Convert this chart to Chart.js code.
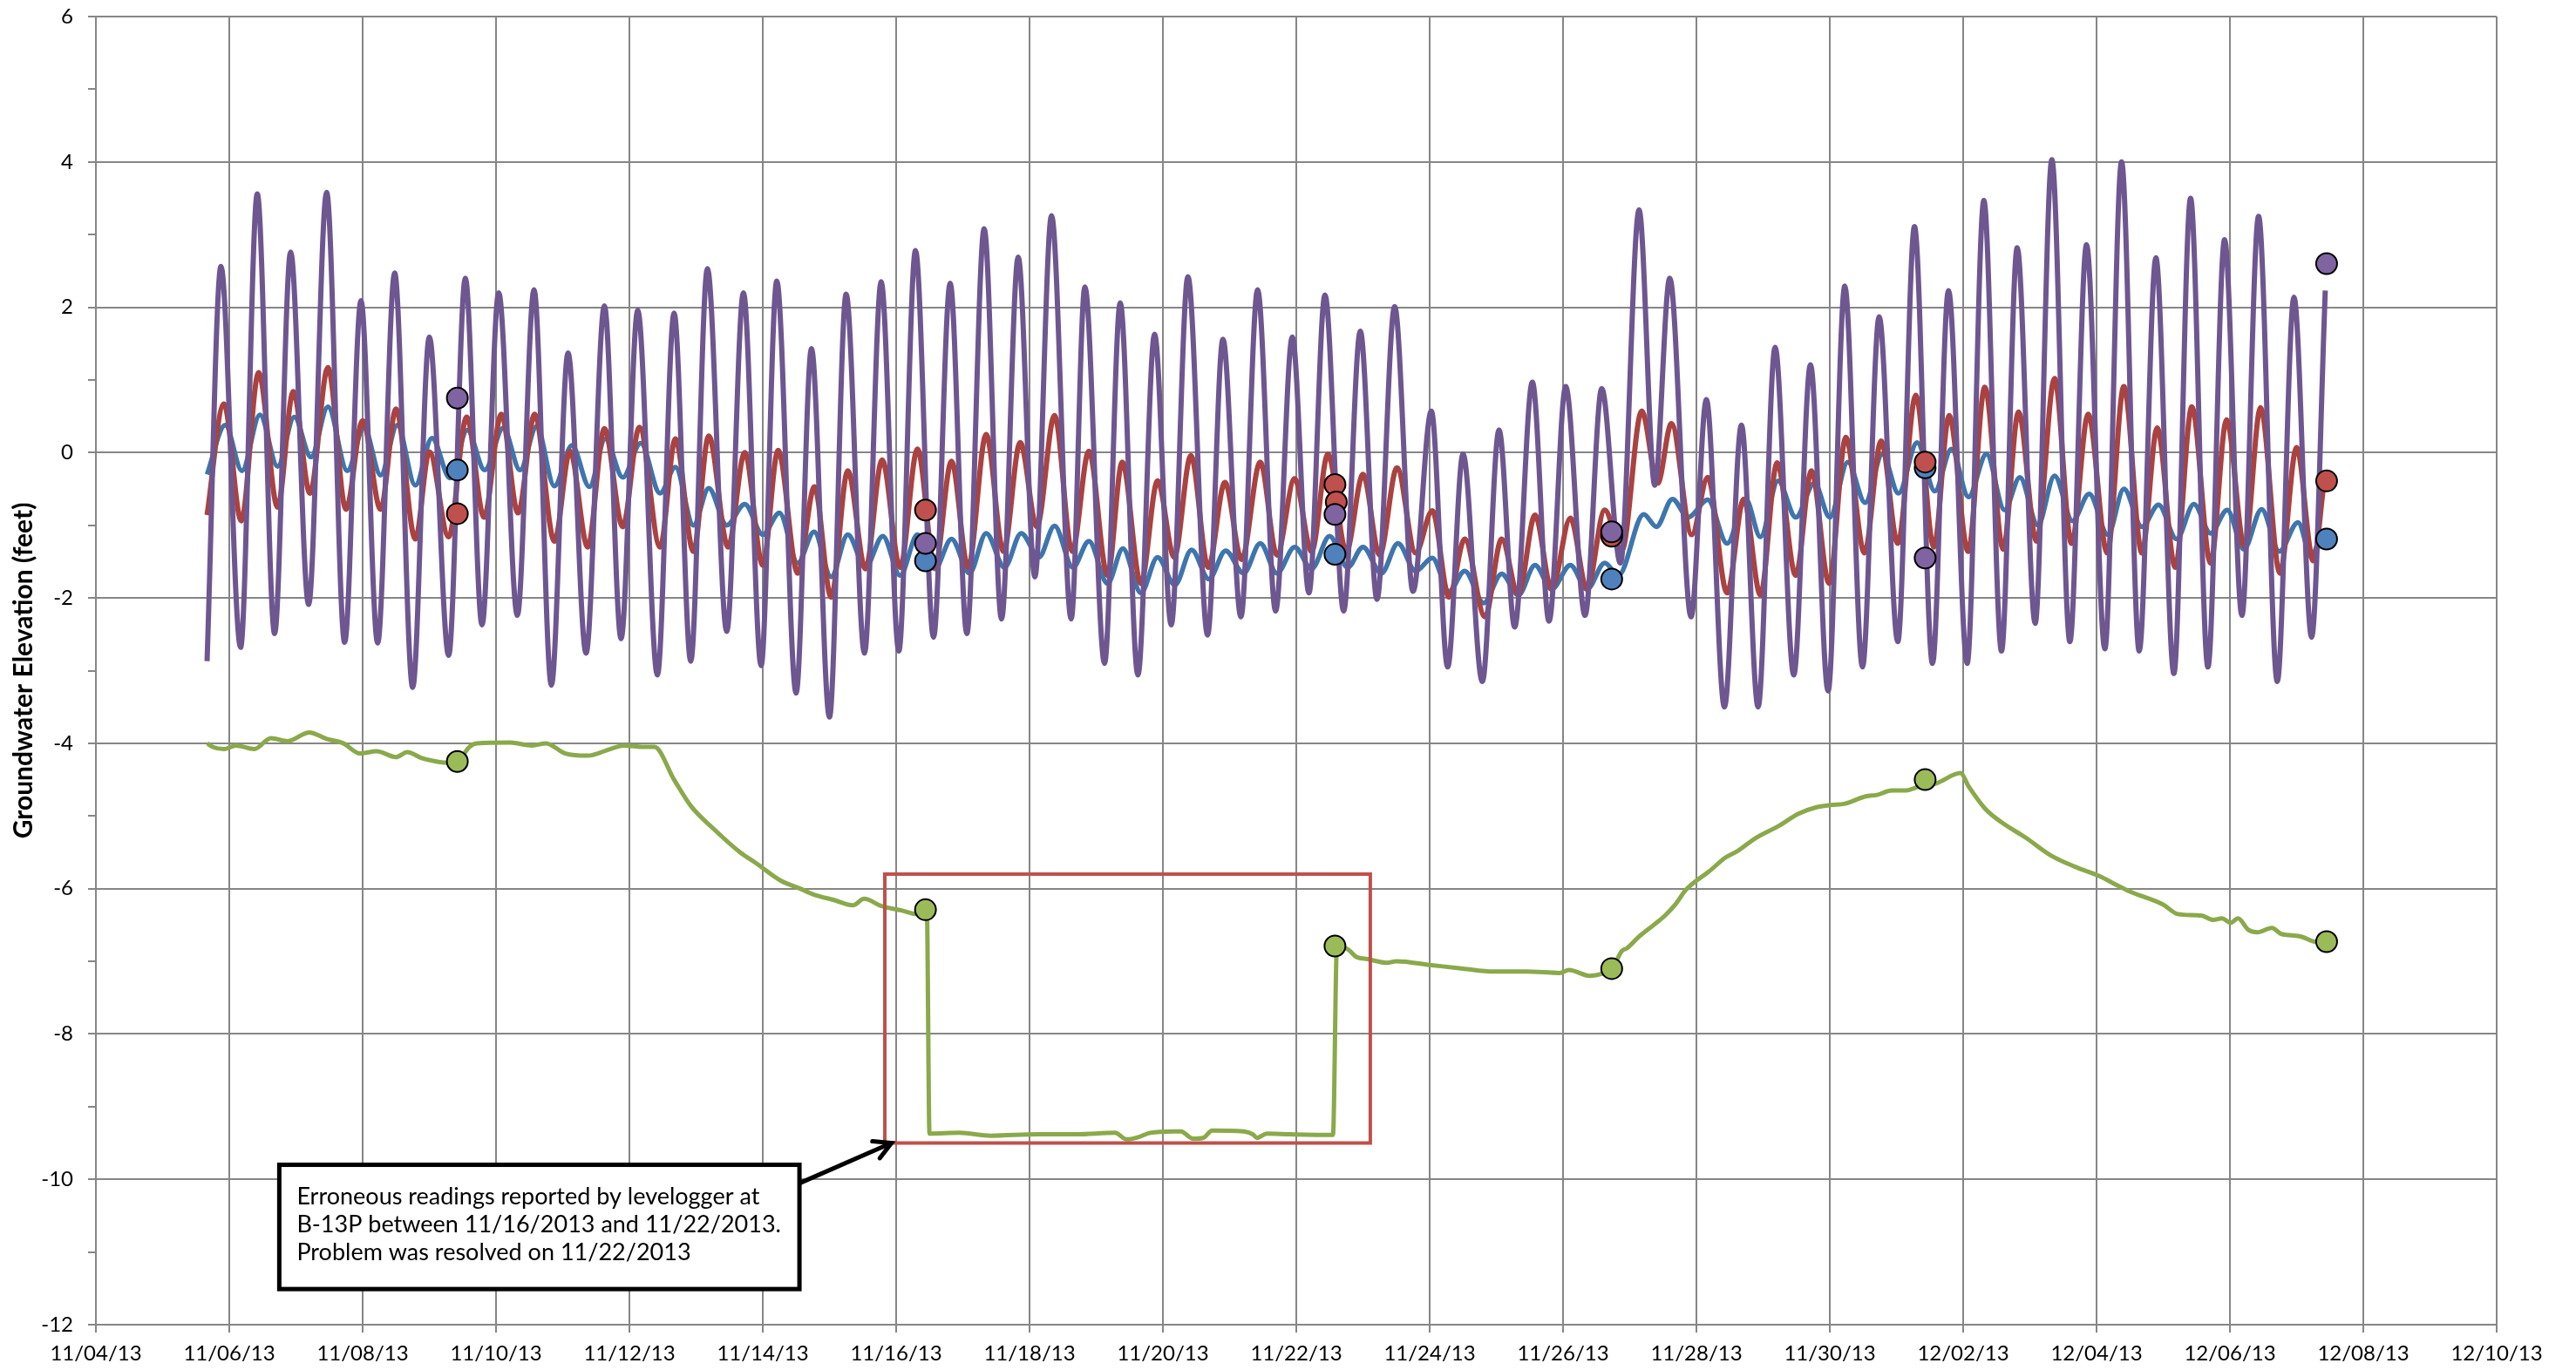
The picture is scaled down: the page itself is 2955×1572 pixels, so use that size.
<!DOCTYPE html>
<html>
<head>
<meta charset="utf-8">
<title>Groundwater Elevation</title>
<script src="https://cdn.jsdelivr.net/npm/chart.js@4.4.1/dist/chart.umd.min.js"></script>
<style>
  body { margin: 0; background: #fff; }
  canvas { display: block; }
</style>
</head>
<body>
<canvas id="myChart" width="2955" height="1572"></canvas>
<script>
// x values are days after 11/04/2013
const purpleDays = [1.667,1.875,2.17,2.42,2.68,2.92,3.19,3.46,3.73,3.975,4.225,4.48,4.75,5.0,5.29,5.54,5.79,6.04,6.32,6.57,6.83,7.08,7.35,7.625,7.875,8.125,8.42,8.67,8.92,9.17,9.46,9.71,9.975,10.21,10.5,10.73,11.0,11.25,11.525,11.775,12.04,12.29,12.56,12.81,13.06,13.32,13.58,13.83,14.08,14.33,14.625,14.83,15.125,15.36,15.625,15.875,16.125,16.375,16.67,16.9,17.17,17.42,17.69,17.94,18.19,18.43,18.71,18.96,19.21,19.475,19.75,20.025,20.27,20.5,20.79,21.04,21.275,21.54,21.79,22.04,22.33,22.58,22.86,23.14,23.375,23.6,23.92,24.15,24.42,24.675,24.925,25.18,25.46,25.71,25.975,26.225,26.49,26.74,27.02,27.27,27.54,27.78,28.06,28.31,28.575,28.81,29.08,29.33,29.6,29.85,30.125,30.375,30.64,30.89,31.16,31.41,31.67,31.92,32.18,32.43,32.71,32.96,33.225,33.43];
const purpleFeet = [-2.87,2.56,-2.68,3.56,-2.49,2.76,-2.09,3.58,-2.61,2.09,-2.62,2.47,-3.23,1.59,-2.79,2.40,-2.37,2.20,-2.24,2.24,-3.20,1.37,-2.76,2.02,-2.56,1.96,-3.06,1.92,-2.87,2.53,-2.46,2.20,-2.93,2.36,-3.31,1.43,-3.64,2.18,-2.76,2.35,-2.73,2.78,-2.54,2.33,-2.49,3.08,-2.29,2.69,-1.71,3.26,-2.29,2.28,-2.90,2.06,-3.06,1.63,-2.37,2.42,-2.51,1.56,-2.26,2.24,-2.18,1.59,-1.93,2.17,-2.18,1.67,-2.02,2.01,-1.91,0.57,-2.95,-0.02,-3.15,0.31,-2.40,0.97,-2.32,0.91,-2.24,0.88,-1.52,3.34,-0.45,2.40,-2.26,0.73,-3.50,0.38,-3.50,1.45,-3.06,1.21,-3.28,2.29,-2.95,1.87,-2.60,3.11,-2.90,2.23,-2.90,3.47,-2.73,2.82,-2.35,4.03,-2.60,2.86,-2.70,4.00,-2.73,2.68,-3.04,3.50,-2.95,2.93,-2.24,3.25,-3.15,2.14,-2.54,2.23];

const redDays = [1.667,1.92,2.18,2.44,2.725,2.96,3.21,3.48,3.75,4.0,4.27,4.5,4.79,5.0,5.29,5.56,5.82,6.08,6.33,6.58,6.875,7.11,7.375,7.625,7.9,8.15,8.46,8.69,8.96,9.19,9.48,9.73,10.0,10.23,10.525,10.775,11.025,11.275,11.54,11.79,12.06,12.32,12.58,12.83,13.08,13.35,13.61,13.86,14.11,14.375,14.64,14.89,15.17,15.39,15.67,15.92,16.17,16.42,16.68,16.93,17.18,17.46,17.71,17.975,18.23,18.475,18.75,19.0,19.25,19.51,19.79,20.04,20.29,20.525,20.83,21.08,21.33,21.58,21.83,22.11,22.36,22.625,22.88,23.18,23.42,23.625,23.93,24.17,24.46,24.71,24.96,25.21,25.49,25.725,25.99,26.24,26.52,26.77,27.02,27.29,27.56,27.79,28.075,28.325,28.6,28.83,29.1,29.37,29.625,29.875,30.16,30.41,30.68,30.91,31.18,31.43,31.71,31.95,32.22,32.46,32.75,33.0,33.25,33.41];
const redFeet = [-0.86,0.67,-0.94,1.10,-0.75,0.84,-0.56,1.17,-0.78,0.44,-0.78,0.60,-1.19,0.01,-1.16,0.49,-0.89,0.53,-0.83,0.53,-1.22,0.02,-1.30,0.33,-1.02,0.35,-1.30,0.19,-1.36,0.23,-1.30,0.00,-1.55,0.03,-1.66,-0.47,-1.99,-0.25,-1.60,-0.10,-1.58,0.05,-1.58,-0.12,-1.58,0.25,-1.36,0.14,-1.02,0.51,-1.36,0.02,-1.69,-0.13,-1.80,-0.39,-1.44,-0.04,-1.58,-0.41,-1.47,-0.13,-1.41,-0.36,-1.36,-0.02,-1.36,-0.30,-1.41,-0.21,-1.38,-0.80,-1.99,-1.19,-2.26,-1.19,-1.96,-0.86,-1.88,-0.90,-1.88,-0.79,-1.35,0.57,-0.42,0.40,-1.13,-0.34,-1.93,-0.64,-1.96,-0.14,-1.69,-0.25,-1.80,0.21,-1.38,0.16,-1.25,0.79,-1.30,0.51,-1.36,0.90,-1.33,0.56,-1.22,1.02,-1.25,0.53,-1.38,0.91,-1.38,0.34,-1.58,0.63,-1.52,0.45,-1.30,0.62,-1.66,0.07,-1.49,-0.42];

const blueDays = [1.667,1.94,2.19,2.46,2.725,2.975,3.225,3.48,3.77,4.02,4.27,4.52,4.79,5.04,5.31,5.57,5.83,6.11,6.36,6.61,6.875,7.14,7.4,7.64,7.9,8.17,8.46,8.69,8.96,9.19,9.46,9.73,10.0,10.25,10.525,10.77,11.025,11.275,11.54,11.8,12.06,12.32,12.58,12.83,13.1,13.35,13.625,13.875,14.14,14.375,14.65,14.89,15.17,15.4,15.67,15.92,16.18,16.43,16.69,16.94,17.21,17.46,17.71,17.975,18.23,18.5,18.77,19.0,19.275,19.525,19.79,20.04,20.29,20.525,20.81,21.08,21.33,21.58,21.83,22.11,22.36,22.625,22.83,23.21,23.4,23.64,23.875,24.17,24.46,24.74,24.96,25.225,25.49,25.77,26.0,26.27,26.53,26.79,27.03,27.31,27.575,27.825,28.08,28.35,28.62,28.85,29.12,29.37,29.64,29.89,30.17,30.41,30.68,30.93,31.2,31.46,31.71,31.96,32.21,32.475,32.74,33.02,33.225,33.31];
const blueFeet = [-0.30,0.38,-0.25,0.52,-0.19,0.49,-0.06,0.63,-0.25,0.35,-0.31,0.38,-0.45,0.20,-0.35,0.31,-0.24,0.34,-0.24,0.36,-0.46,0.10,-0.47,0.19,-0.34,0.13,-0.56,-0.20,-1.00,-0.49,-1.00,-0.71,-1.13,-0.83,-1.52,-1.09,-1.71,-1.13,-1.58,-1.15,-1.69,-1.13,-1.60,-1.19,-1.66,-1.11,-1.58,-1.11,-1.44,-1.01,-1.58,-1.22,-1.80,-1.32,-1.93,-1.44,-1.82,-1.34,-1.74,-1.35,-1.66,-1.25,-1.66,-1.30,-1.60,-1.15,-1.58,-1.30,-1.66,-1.25,-1.63,-1.45,-1.91,-1.63,-2.07,-1.67,-1.96,-1.55,-1.88,-1.55,-1.88,-1.52,-1.69,-0.85,-1.02,-0.64,-0.89,-0.65,-1.25,-0.64,-1.16,-0.39,-0.89,-0.42,-0.89,-0.13,-0.69,-0.02,-0.56,0.14,-0.53,0.05,-0.61,-0.02,-0.79,-0.34,-1.00,-0.32,-0.94,-0.57,-1.13,-0.50,-1.02,-0.72,-1.19,-0.71,-1.11,-0.79,-1.33,-0.78,-1.36,-0.96,-1.44,-1.27];

const greenDays = [1.67,1.75,1.92,2.1,2.375,2.625,2.875,3.2,3.46,3.71,3.96,4.21,4.5,4.67,4.875,5.1,5.3,5.43,5.6,5.71,6.21,6.54,6.75,7.04,7.375,7.71,7.92,8.21,8.375,8.67,8.92,9.29,9.66,9.9,10.27,10.56,10.76,11.08,11.35,11.52,11.78,12.08,12.31,12.46,12.5,12.95,13.42,14.12,14.7,15.28,15.46,15.63,15.81,16.16,16.27,16.45,16.6,16.74,17.21,17.35,17.41,17.56,17.91,18.55,18.61,18.78,18.9,19.07,19.36,19.5,20.0,20.5,20.96,21.45,21.95,22.09,22.4,22.59,22.74,22.88,22.96,23.14,23.36,23.53,23.7,23.83,24.0,24.18,24.44,24.62,24.88,25.23,25.53,25.8,26.01,26.23,26.54,26.71,26.93,27.15,27.32,27.6,27.96,28.08,28.33,28.58,28.94,29.31,29.68,30.05,30.3,30.5,31.0,31.22,31.57,31.75,31.88,32.01,32.12,32.28,32.41,32.63,32.76,32.89,33.07,33.29,33.44];
const greenFeet = [-4.00,-4.05,-4.08,-4.03,-4.08,-3.93,-3.97,-3.85,-3.94,-4.00,-4.14,-4.11,-4.19,-4.12,-4.20,-4.25,-4.27,-4.25,-4.05,-4.00,-3.99,-4.03,-4.00,-4.14,-4.17,-4.08,-4.03,-4.05,-4.05,-4.50,-4.86,-5.20,-5.50,-5.65,-5.89,-6.00,-6.08,-6.16,-6.23,-6.14,-6.24,-6.30,-6.35,-6.29,-9.37,-9.36,-9.40,-9.38,-9.38,-9.36,-9.45,-9.42,-9.36,-9.34,-9.34,-9.44,-9.43,-9.33,-9.34,-9.38,-9.43,-9.37,-9.38,-9.39,-6.79,-6.84,-6.94,-6.97,-7.02,-7.00,-7.05,-7.10,-7.14,-7.14,-7.16,-7.12,-7.20,-7.17,-7.10,-6.86,-6.82,-6.66,-6.50,-6.37,-6.20,-6.03,-5.89,-5.77,-5.57,-5.48,-5.31,-5.14,-4.97,-4.88,-4.85,-4.83,-4.73,-4.71,-4.65,-4.65,-4.60,-4.55,-4.41,-4.59,-4.90,-5.09,-5.30,-5.54,-5.70,-5.83,-5.95,-6.04,-6.22,-6.35,-6.37,-6.43,-6.41,-6.47,-6.41,-6.57,-6.60,-6.54,-6.62,-6.64,-6.66,-6.73,-6.73];

// manual measurements
const markDays = [5.42, 12.44, 18.58, 22.73, 27.43, 33.45];
const purpleMarks = [0.75, -1.25, -0.85, -1.09, -1.45, 2.60];
const redMarks = [-0.84, -0.79, -0.44, -1.15, -0.13, -0.39];
const blueMarks = [-0.24, -1.49, -1.40, -1.74, -0.21, -1.19];
const greenMarks = [-4.25, -6.29, -6.79, -7.10, -4.50, -6.73];
const redMarkDays2 = [18.6];
const redMarks2 = [-0.68];

// annotation anchors (days, feet)
const boxDays = [11.83, 19.11];
const boxFeet = [-5.8, -9.5];
const noteDays = [2.75, 10.55];
const noteFeet = [-9.80, -11.51];
const arrowDays = [10.56, 11.93];
const arrowFeet = [-10.05, -9.5];
const noteLines = [
  'Erroneous readings reported by levelogger at',
  'B-13P between 11/16/2013 and 11/22/2013.',
  'Problem was resolved on 11/22/2013'
];

const FONT = 'Lato, "Noto Sans", sans-serif';

function pts(xs, ys) {
  return xs.map((x, i) => ({x: x, y: ys[i]}));
}

function lineSet(label, xs, ys, color, width) {
  return {
    label: label,
    data: pts(xs, ys),
    showLine: true,
    borderColor: color,
    borderWidth: width,
    pointRadius: 0,
    cubicInterpolationMode: 'monotone',
    fill: false
  };
}

function markSet(label, xs, ys, color) {
  return {
    label: label,
    data: pts(xs, ys),
    showLine: false,
    pointRadius: 12,
    pointHoverRadius: 12,
    backgroundColor: color,
    borderColor: '#000',
    borderWidth: 2
  };
}

function dateLabel(v) {
  const d = new Date(2013, 10, 4 + v);
  const mm = String(d.getMonth() + 1).padStart(2, '0');
  const dd = String(d.getDate()).padStart(2, '0');
  const yy = String(d.getFullYear()).slice(2);
  return mm + '/' + dd + '/' + yy;
}

const annotations = {
  id: 'annotations',
  afterDatasetsDraw(chart) {
    const ctx = chart.ctx;
    const x = chart.scales.x, y = chart.scales.y;
    ctx.save();

    // red box round the bad readings
    const bx0 = x.getPixelForValue(boxDays[0]), bx1 = x.getPixelForValue(boxDays[1]);
    const by0 = y.getPixelForValue(boxFeet[0]), by1 = y.getPixelForValue(boxFeet[1]);
    ctx.strokeStyle = '#C0504D';
    ctx.lineWidth = 4;
    ctx.strokeRect(bx0, by0, bx1 - bx0, by1 - by0);

    // note box
    const nx0 = x.getPixelForValue(noteDays[0]), nx1 = x.getPixelForValue(noteDays[1]);
    const ny0 = y.getPixelForValue(noteFeet[0]), ny1 = y.getPixelForValue(noteFeet[1]);
    ctx.fillStyle = '#fff';
    ctx.fillRect(nx0, ny0, nx1 - nx0, ny1 - ny0);
    ctx.strokeStyle = '#000';
    ctx.lineWidth = 5;
    ctx.strokeRect(nx0, ny0, nx1 - nx0, ny1 - ny0);
    ctx.fillStyle = '#000';
    ctx.font = '27px ' + FONT;
    ctx.textAlign = 'left';
    ctx.textBaseline = 'alphabetic';
    noteLines.forEach((t, i) => ctx.fillText(t, nx0 + 20, ny0 + 45 + i * 32));

    // arrow
    const ax0 = x.getPixelForValue(arrowDays[0]), ay0 = y.getPixelForValue(arrowFeet[0]);
    const ax1 = x.getPixelForValue(arrowDays[1]), ay1 = y.getPixelForValue(arrowFeet[1]);
    const ang = Math.atan2(ay1 - ay0, ax1 - ax0);
    ctx.lineWidth = 5;
    ctx.lineCap = 'round';
    ctx.beginPath();
    ctx.moveTo(ax0, ay0);
    ctx.lineTo(ax1, ay1);
    ctx.moveTo(ax1 - 22 * Math.cos(ang - 0.5), ay1 - 22 * Math.sin(ang - 0.5));
    ctx.lineTo(ax1, ay1);
    ctx.lineTo(ax1 - 22 * Math.cos(ang + 0.5), ay1 - 22 * Math.sin(ang + 0.5));
    ctx.stroke();
    ctx.restore();
  }
};

const ctx = document.getElementById('myChart').getContext('2d');
const chart = new Chart(ctx, {
  type: 'scatter',
  data: {
    datasets: [
      markSet('Purple measured', markDays, purpleMarks, '#8064A2'),
      markSet('Red measured 2', redMarkDays2, redMarks2, '#C0504D'),
      markSet('Red measured', markDays, redMarks, '#C0504D'),
      markSet('Blue measured', markDays, blueMarks, '#4F81BD'),
      markSet('Green measured', markDays, greenMarks, '#9BBB59'),
      lineSet('Purple', purpleDays, purpleFeet, '#6E5691', 6),
      lineSet('Red', redDays, redFeet, '#AA423F', 6),
      lineSet('Blue', blueDays, blueFeet, '#3E75AD', 5.5),
      lineSet('B-13P', greenDays, greenFeet, '#8AA94B', 5)
    ]
  },
  options: {
    responsive: false,
    animation: false,
    devicePixelRatio: 1,
    layout: { padding: { top: 19, right: 91, left: 0, bottom: 0 } },
    plugins: {
      legend: { display: false },
      tooltip: { enabled: false }
    },
    scales: {
      x: {
        type: 'linear',
        min: 0,
        max: 36,
        ticks: {
          stepSize: 2,
          autoSkip: false,
          maxRotation: 0,
          padding: 10,
          color: '#000',
          font: { family: FONT, size: 24 },
          callback: (v) => dateLabel(v)
        },
        grid: { color: '#868686', lineWidth: 2, tickLength: 9 },
        border: { color: '#868686', width: 2 },
        afterFit: (s) => { s.height = 52; s.paddingLeft = 0; s.paddingRight = 0; }
      },
      y: {
        min: -12,
        max: 6,
        ticks: {
          stepSize: 1,
          autoSkip: false,
          padding: 17,
          color: '#000',
          font: { family: FONT, size: 24 },
          callback: (v) => (v % 2 === 0 ? v : '')
        },
        grid: {
          color: (c) => (c.tick && c.tick.value % 2 !== 0 ? 'rgba(0,0,0,0)' : '#868686'),
          tickColor: '#868686',
          lineWidth: 2,
          tickLength: 9
        },
        border: { color: '#868686', width: 2 },
        title: {
          display: true,
          text: 'Groundwater Elevation (feet)',
          color: '#000',
          font: { family: FONT, size: 30, weight: 'bold' },
          padding: { top: 9, bottom: 0 }
        },
        afterFit: (s) => { s.width = 110; s.paddingTop = 0; s.paddingBottom = 0; }
      }
    }
  },
  plugins: [annotations]
});
</script>
</body>
</html>
